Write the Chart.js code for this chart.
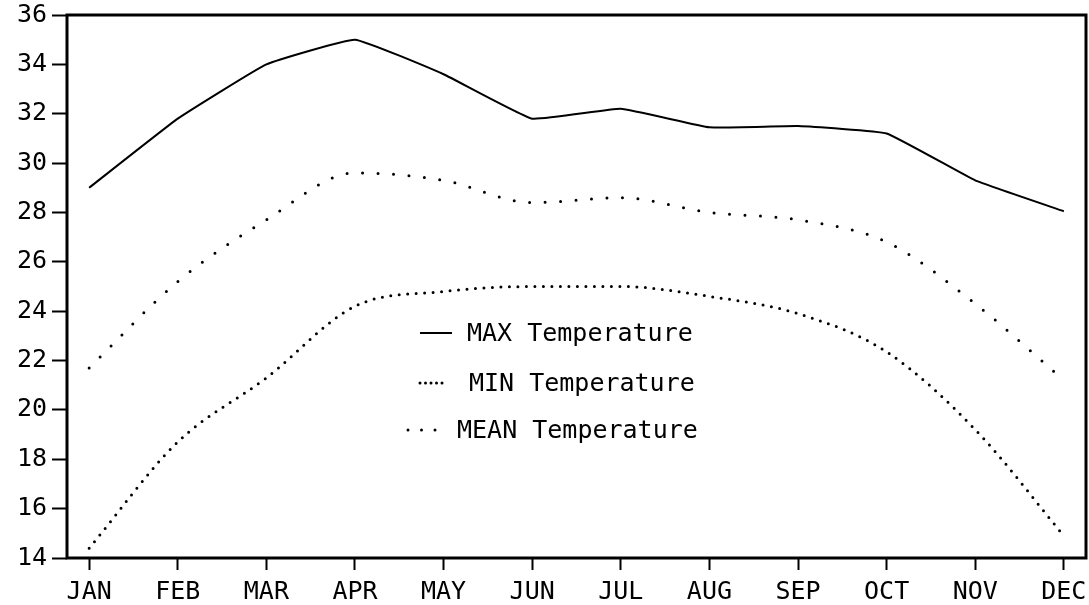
<!DOCTYPE html>
<html>
<head>
<meta charset="utf-8">
<title>Monthly Temperature</title>
<script src="https://cdn.jsdelivr.net/npm/chart.js@4/dist/chart.umd.min.js"></script>
<style>
    html, body { margin: 0; padding: 0; background: #fff; }
    #temp-chart { width: 1089px; height: 605px; }
</style>
</head>
<body>
<div id="temp-chart"></div>
<script>
var months = ['JAN', 'FEB', 'MAR', 'APR', 'MAY', 'JUN', 'JUL', 'AUG', 'SEP', 'OCT', 'NOV', 'DEC'];
var maxTemp = [29.0, 31.8, 34.0, 35.0, 33.6, 31.8, 32.2, 31.45, 31.5, 31.2, 29.3, 28.05];
var minTemp = [14.4, 18.7, 21.3, 24.2, 24.8, 25.0, 25.0, 24.6, 23.9, 22.35, 19.2, 14.9];
var meanTemp = [21.7, 25.2, 27.7, 29.6, 29.3, 28.4, 28.6, 28.0, 27.7, 26.8, 24.3, 21.2];
var yMin = 14;
var yMax = 36;
var yStep = 2;

var FONT = '"DejaVu Sans Mono", "Liberation Mono", monospace';

var TEMP = TEMP || {};

TEMP.points = function (values) {
    return values.map(function (v, i) { return { x: i, y: v }; });
};

// heavy box round the plot area
TEMP.framePlugin = {
    id: 'frame',
    afterDraw: function (chart) {
        var a = chart.chartArea;
        var ctx = chart.ctx;
        ctx.save();
        ctx.strokeStyle = '#000';
        ctx.lineWidth = 3;
        ctx.strokeRect(a.left, a.top, a.right - a.left, a.bottom - a.top);
        ctx.restore();
    }
};

// key drawn inside the plot, one row per series
TEMP.keyPlugin = {
    id: 'key',
    afterDatasetsDraw: function (chart) {
        var a = chart.chartArea;
        var ctx = chart.ctx;
        var rows = [
            { ds: 0, x0: 353, x1: 385, tx: 400, y: 318 },
            { ds: 1, x0: 353, x1: 380, tx: 402, y: 368 },
            { ds: 2, x0: 341, x1: 370, tx: 390, y: 415 }
        ];
        ctx.save();
        ctx.fillStyle = '#000';
        ctx.font = '25px ' + FONT;
        ctx.textBaseline = 'middle';
        rows.forEach(function (r) {
            var ds = chart.data.datasets[r.ds];
            var y = a.top + r.y;
            ctx.beginPath();
            ctx.strokeStyle = '#000';
            ctx.lineWidth = ds.borderWidth;
            ctx.lineCap = ds.borderCapStyle || 'butt';
            ctx.setLineDash(ds.keyDash || ds.borderDash || []);
            ctx.moveTo(a.left + r.x0, y);
            ctx.lineTo(a.left + r.x1, y);
            ctx.stroke();
            ctx.setLineDash([]);
            ctx.fillText(ds.label, a.left + r.tx, y + 1);
        });
        ctx.restore();
    }
};

TEMP.createChart = function (divid) {
    var container = document.getElementById(divid);
    while (container.firstChild) {
        container.removeChild(container.firstChild);
    }
    var canvas = document.createElement('canvas');
    canvas.id = divid + '-canvas';
    canvas.width = 1089;
    canvas.height = 605;
    container.appendChild(canvas);
    var ctx = canvas.getContext('2d');

    return new Chart(ctx, {
        type: 'line',
        data: {
            datasets: [
                {
                    label: 'MAX Temperature',
                    data: TEMP.points(maxTemp),
                    borderColor: '#000',
                    borderWidth: 2,
                    tension: 0.1,
                    pointRadius: 0
                },
                {
                    label: 'MIN Temperature',
                    data: TEMP.points(minTemp),
                    borderColor: '#000',
                    borderWidth: 3,
                    borderCapStyle: 'round',
                    borderDash: [0, 8.5],
                    keyDash: [0, 5.5],
                    cubicInterpolationMode: 'monotone',
                    pointRadius: 0
                },
                {
                    label: 'MEAN Temperature',
                    data: TEMP.points(meanTemp),
                    borderColor: '#000',
                    borderWidth: 3,
                    borderCapStyle: 'round',
                    borderDash: [0, 15.5],
                    keyDash: [0, 13.5],
                    cubicInterpolationMode: 'monotone',
                    pointRadius: 0
                }
            ]
        },
        options: {
            responsive: false,
            animation: false,
            layout: { padding: { top: 15, right: 3, left: 0, bottom: 0 } },
            plugins: {
                legend: { display: false },
                tooltip: { enabled: false }
            },
            scales: {
                x: {
                    type: 'linear',
                    min: -0.25,
                    max: months.length - 0.75,
                    afterBuildTicks: function (scale) {
                        scale.ticks = months.map(function (m, i) { return { value: i }; });
                    },
                    afterFit: function (scale) {
                        scale.height = 47;
                        scale.paddingLeft = 0;
                        scale.paddingRight = 0;
                    },
                    border: { display: false },
                    grid: {
                        drawOnChartArea: false,
                        drawTicks: true,
                        tickLength: 12,
                        tickWidth: 2,
                        tickColor: '#000'
                    },
                    ticks: {
                        autoSkip: false,
                        maxRotation: 0,
                        padding: 7,
                        color: '#000',
                        font: { family: FONT, size: 25 },
                        callback: function (v) { return months[v]; }
                    }
                },
                y: {
                    min: yMin,
                    max: yMax,
                    afterFit: function (scale) {
                        scale.width = 67;
                        scale.paddingTop = 0;
                        scale.paddingBottom = 0;
                    },
                    border: { display: false },
                    grid: {
                        drawOnChartArea: false,
                        drawTicks: true,
                        tickLength: 15,
                        tickWidth: 2,
                        tickColor: '#000'
                    },
                    ticks: {
                        stepSize: yStep,
                        padding: 5,
                        color: '#000',
                        font: { family: FONT, size: 25 }
                    }
                }
            }
        },
        plugins: [TEMP.framePlugin, TEMP.keyPlugin]
    });
};

TEMP.createChart('temp-chart');
</script>
</body>
</html>
